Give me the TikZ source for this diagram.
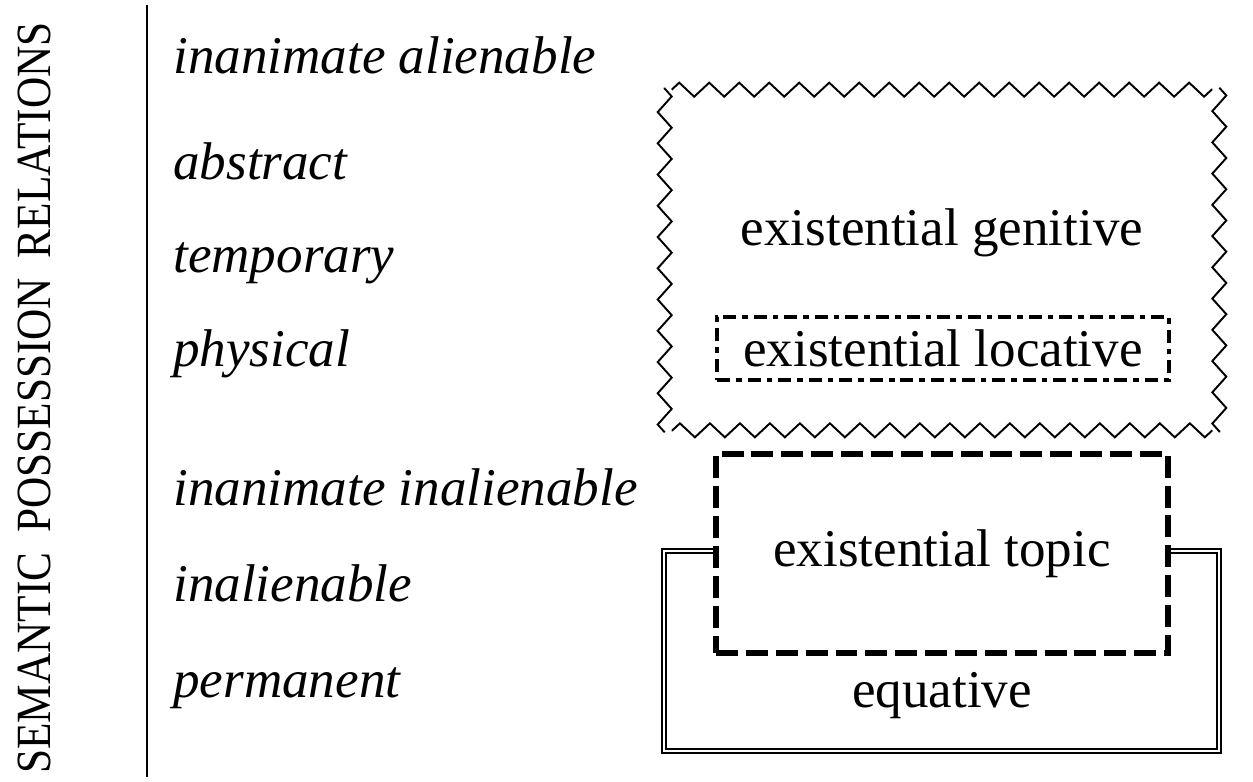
\documentclass[tikz,border=0pt]{standalone}
\usepackage{fontspec}
\setmainfont{Liberation Serif}
\newfontfamily\titlefont[FakeStretch=0.88]{Liberation Serif}
\usetikzlibrary{decorations.pathmorphing,calc}

\begin{document}
\begin{tikzpicture}[
        x=0.02cm, y=-0.02cm,
        lbl/.style={anchor=base west, inner sep=0pt, font=\fontsize{30.2}{36}\selectfont\itshape},
        txt/.style={anchor=base, inner sep=0pt, font=\fontsize{30.2}{36}\selectfont},
        zzline/.style={line width=1.1pt, decorate, decoration={zigzag, segment length=#1, amplitude=0.14cm}},
        locbox/.style={draw, line width=2.3pt, dash pattern=on 7.4pt off 3.4pt on 3.2pt off 3.4pt, minimum width=9.04cm, minimum height=1.26cm, inner sep=0pt, font=\fontsize{30.2}{36}\selectfont},
        topbox/.style={draw, fill=white, line width=3.2pt, dash pattern=on 12.5pt off 4.5pt, minimum width=9.04cm, minimum height=3.98cm, inner sep=0pt, font=\fontsize{30.2}{36}\selectfont},
        eqbox/.style={draw, double, double distance=1.5pt, line width=0.9pt, minimum width=11.1cm, minimum height=4cm}
    ]
        \useasboundingbox (0,0) rectangle (1253,781);

        % Side title and rule
        \node[rotate=90, inner sep=0pt, font=\fontsize{28}{32}\titlefont] (title) at (34,398)
            {SEMANTIC\hspace{0.4em}POSSESSION\hspace{0.4em}RELATIONS};
        \coordinate (ruletop) at (147,5);
        \coordinate (rulebot) at (147,777);
        \draw[line width=1.1pt] (ruletop) -- (rulebot);

        % Relation labels
        \node[lbl] (inalien) at (173,73) {inanimate alienable};
        \node[lbl] (abstr) at (173,179) {abstract};
        \node[lbl] (temp) at (173,272) {temporary};
        \node[lbl] (phys) at (173,366) {physical};
        \node[lbl] (ininal) at (173,505) {inanimate inalienable};
        \node[lbl] (inal) at (173,601) {inalienable};
        \node[lbl] (perm) at (173,697) {permanent};

        % Genitive box with zigzag sides
        \node[minimum width=11.08cm, minimum height=6.8cm] (gen) at (942,260) {};
        \draw[zzline=0.6cm] ($(gen.north west)+(7,0)$) -- ($(gen.north east)+(-7,0)$);
        \draw[zzline=0.625cm] ($(gen.north east)+(0,-2)$) -- ($(gen.south east)+(0,2)$);
        \draw[zzline=0.6cm] ($(gen.south east)+(-7,0)$) -- ($(gen.south west)+(7,0)$);
        \draw[zzline=0.625cm] ($(gen.south west)+(0,2)$) -- ($(gen.north west)+(0,-2)$);
        \node[txt] (gentext) at (942,245) {existential genitive};
        \node[locbox] (loc) at (943,348.5) {existential locative};

        % Equative box under the topic box
        \node[eqbox] (eq) at (941.5,651) {};
        \node[txt] (eqtext) at (942,707) {equative};
        \node[topbox] (topic) at (942,553.5) {existential topic};
    \end{tikzpicture}
\end{document}
